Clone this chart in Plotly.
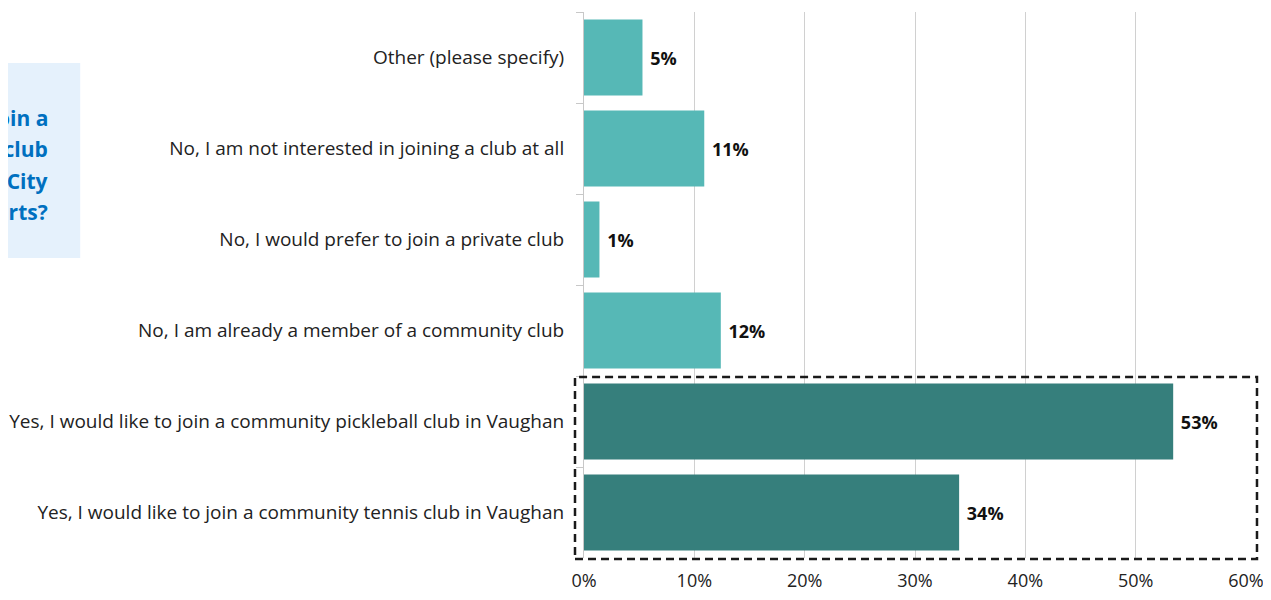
import plotly.graph_objects as go

categories = [
    "Other (please specify)",
    "No, I am not interested in joining a club at all",
    "No, I would prefer to join a private club",
    "No, I am already a member of a community club",
    "Yes, I would like to join a community pickleball club in Vaughan",
    "Yes, I would like to join a community tennis club in Vaughan",
]
shares = [5.3, 10.9, 1.4, 12.4, 53.4, 34.0]
is_yes = [False, False, False, False, True, True]
x_ticks = [0, 10, 20, 30, 40, 50, 60]
x_tick_labels = ["0%", "10%", "20%", "30%", "40%", "50%", "60%"]
question_lines = [
    "Would you be interested to join a",
    "community pickleball or tennis club",
    "that plays on City",
    "courts?",
]

LIGHT = "#56B8B6"
DARK = "#367F7C"
FONT = "Open Sans"

fig = go.Figure(
    go.Bar(
        x=shares,
        y=categories,
        orientation="h",
        marker=dict(color=[DARK if y else LIGHT for y in is_yes], line=dict(width=0)),
        texttemplate=" %{x:.0f}%",
        textposition="outside",
        textfont=dict(family=FONT, size=18, color="#111111", weight="bold"),
        cliponaxis=False,
        hoverinfo="skip",
    )
)

fig.update_layout(
    width=1255,
    height=584,
    margin=dict(l=576, r=17, t=4, b=34, autoexpand=False),
    plot_bgcolor="white",
    paper_bgcolor="white",
    bargap=0.165,
    showlegend=False,
    font=dict(family=FONT, size=19, color="#222222"),
    xaxis=dict(
        range=[0, 60],
        tickvals=x_ticks,
        ticktext=x_tick_labels,
        showgrid=True,
        gridcolor="#D0D0D0",
        gridwidth=1,
        zeroline=False,
        showline=False,
        ticks="",
        ticklabelstandoff=10,
        ticklabeloverflow="allow",
        automargin=False,
        tickfont=dict(size=18, color="#222222"),
    ),
    yaxis=dict(
        autorange="reversed",
        showline=True,
        linecolor="#C8C8C8",
        linewidth=1,
        ticks="outside",
        tickson="boundaries",
        ticklen=7,
        tickcolor="#C8C8C8",
        ticklabelstandoff=15,
        automargin=False,
        tickfont=dict(size=19, color="#222222"),
        showgrid=False,
    ),
)

# question box on the left, partly cut by the page edge
fig.add_shape(
    type="rect", xref="paper", yref="paper",
    x0=-0.95, x1=-0.761, y0=0.5495, y1=0.9066,
    fillcolor="#E5F1FC", line=dict(width=0), layer="below",
)
line_y = [0.806, 0.749, 0.690, 0.634]
for txt, yy in zip(question_lines, line_y):
    fig.add_annotation(
        xref="paper", yref="paper", x=-0.8066, y=yy,
        xanchor="right", yanchor="middle", align="right",
        text=txt, showarrow=False,
        font=dict(family=FONT, size=21, color="#0070C0", weight="bold"),
    )

# dashed highlight around the "Yes" answers
fig.add_shape(
    type="rect", xref="paper", yref="paper",
    x0=-0.0136, x1=1.0166, y0=-0.002, y1=0.3315,
    line=dict(color="#1A1A1A", width=2.5, dash="8px,5px"),
    fillcolor="rgba(0,0,0,0)", layer="above",
)

fig.write_html("out.html")
